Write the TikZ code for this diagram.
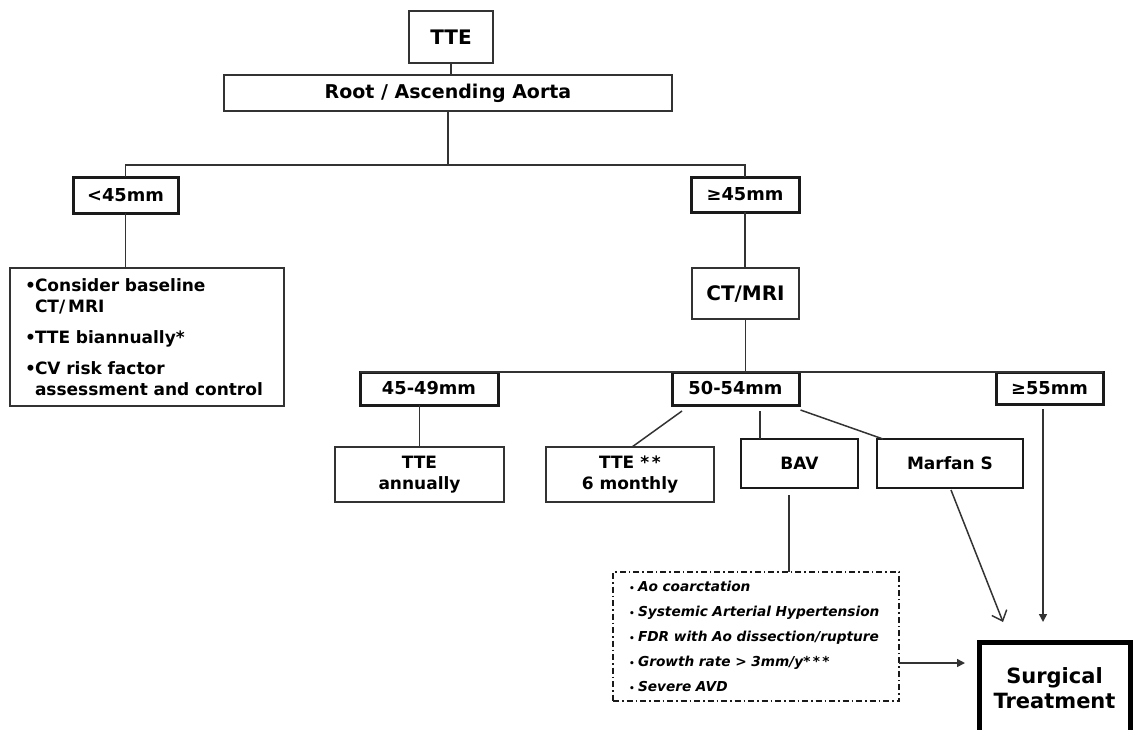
\documentclass[tikz,border=0pt]{standalone}
\usepackage{fontspec}
\setmainfont{DejaVu Sans}
\usetikzlibrary{arrows.meta}
\definecolor{linec}{HTML}{333333}
\definecolor{boxc}{HTML}{1A1A1A}
\newcommand{\smbul}{\makebox[9pt][l]{\fontsize{9}{9}\selectfont\upshape •}}
\begin{document}
\begin{tikzpicture}[x=1pt,y=-1pt,
  base/.style={inner sep=0pt, outer sep=0pt, align=center, font=\bfseries\fontsize{17}{20.5}\selectfont},
  tbox/.style={base, draw=linec, line width=1.5pt},
  mbox/.style={base, draw=boxc, line width=2.5pt},
  kbox/.style={base, draw=boxc, line width=3pt, font=\bfseries\fontsize{17.8}{21}\selectfont},
  bigtext/.style={font=\bfseries\fontsize{20}{24}\selectfont},
  conn/.style={draw=linec, line width=1.5pt},
  farrow/.style={conn, -{Triangle[length=8pt,width=8pt]}},
  oarrow/.style={conn, -{Straight Barb[length=9pt,width=16pt,line width=1.5pt]}}
]
\useasboundingbox (0,0) rectangle (1135,729);

% top level
\node[tbox, bigtext, minimum width=84, minimum height=52] (tte) at (451,37) {TTE};
\node[tbox, minimum width=448, minimum height=36, font=\bfseries\fontsize{19}{22}\selectfont] (root) at (448,93) {Root / Ascending Aorta};
\node[kbox, minimum width=105, minimum height=36] (lt) at (125.5,195) {<45mm};
\node[kbox, minimum width=108, minimum height=35] (ge) at (745,194.5) {≥45mm};

\node[tbox, anchor=north west, minimum width=274, minimum height=138,
      text width=244, inner xsep=15pt, align=left,
      font=\bfseries\fontsize{17}{21}\selectfont] (list) at (10,268)
 {\mbox{\makebox[10pt][l]{•}Consider baseline}\\
  \mbox{\hspace*{10pt}CT/\,MRI}\\[10pt]
  \mbox{\makebox[10pt][l]{•}TTE biannually*}\\[10pt]
  \mbox{\makebox[10pt][l]{•}CV risk factor}\\
  \mbox{\hspace*{10pt}assessment and control}};

\node[tbox, bigtext, minimum width=107, minimum height=51] (ct) at (745.5,293.5) {CT/MRI};

% size classes
\node[kbox, minimum width=138, minimum height=33] (a) at (429,388.5) {45-49mm};
\node[kbox, minimum width=127, minimum height=33] (b) at (735.5,388.5) {50-54mm};
\node[kbox, minimum width=107, minimum height=32] (c) at (1049.5,388) {≥55mm};

% follow-up
\node[tbox, minimum width=169, minimum height=55] (tann) at (419.5,474.5) {TTE\\annually};
\node[tbox, minimum width=168, minimum height=55] (tsix) at (630,474.5) {TTE *\,*\\6 monthly};
\node[mbox, minimum width=117, minimum height=49] (bav) at (799.5,463.5) {BAV};
\node[mbox, minimum width=146, minimum height=49] (mar) at (950,463.5) {Marfan S};

\node[draw=boxc, line width=1.5pt, dash pattern=on 6pt off 3pt on 1.5pt off 3pt,
      anchor=north west, minimum width=286, minimum height=129, outer sep=0pt,
      text width=254, inner xsep=16pt, inner ysep=0pt, align=left,
      font=\bfseries\itshape\fontsize{13.7}{25}\selectfont] (crit) at (613,572)
 {\mbox{\smbul Ao coarctation}\\
  \mbox{\smbul Systemic Arterial Hypertension}\\
  \mbox{\smbul FDR with Ao dissection/rupture}\\
  \mbox{\smbul Growth rate > 3mm/y*\,*\,*}\\
  \mbox{\smbul Severe AVD}};

\node[base, draw=black, line width=5pt, anchor=north west, minimum width=151, minimum height=93,
      font=\bfseries\fontsize{21}{25}\selectfont] (surg) at (979,642) {Surgical\\Treatment};

% connectors
\coordinate (j1) at (448,165);
\draw[conn] (tte.south) -- (tte.south |- root.north);
\draw[conn] (root.south) -- (j1);
\draw[conn] (lt.north) |- (j1) -| (ge.north);
\draw[conn] (lt.south) -- (lt.south |- list.north);
\draw[conn] (ge.south) -- (ge.south |- ct.north);
\draw[conn] (ct.south) -- (ct.south |- b.north);
\draw[conn] (a.north west) -- (c.north east);
\draw[conn] (tann.north) -- (tann.north |- a.south);
\draw[conn] ([shift={(10,6)}]b.south west) -- ([shift={(2,0)}]tsix.north);
\draw[conn] ([shift={(-39.5,0)}]bav.north) -- ([shift={(-39.5,-28)}]bav.north);
\draw[conn] ([shift={(1.5,5)}]b.south east) -- ([shift={(6,0)}]mar.north west);
\draw[conn] ([shift={(-10.5,7)}]bav.south) -- ([shift={(-10.5,0)}]bav.south |- crit.north);
\draw[farrow] ([shift={(0,26.5)}]crit.east) -- ([shift={(-14,-25.5)}]surg.west);
\draw[oarrow] ([shift={(1,2)}]mar.south) -- ([shift={(-51.5,-20)}]surg.north);
\draw[farrow] ([shift={(-6.5,5)}]c.south) -- ([shift={(-11.5,-20)}]surg.north);
\end{tikzpicture}
\end{document}
